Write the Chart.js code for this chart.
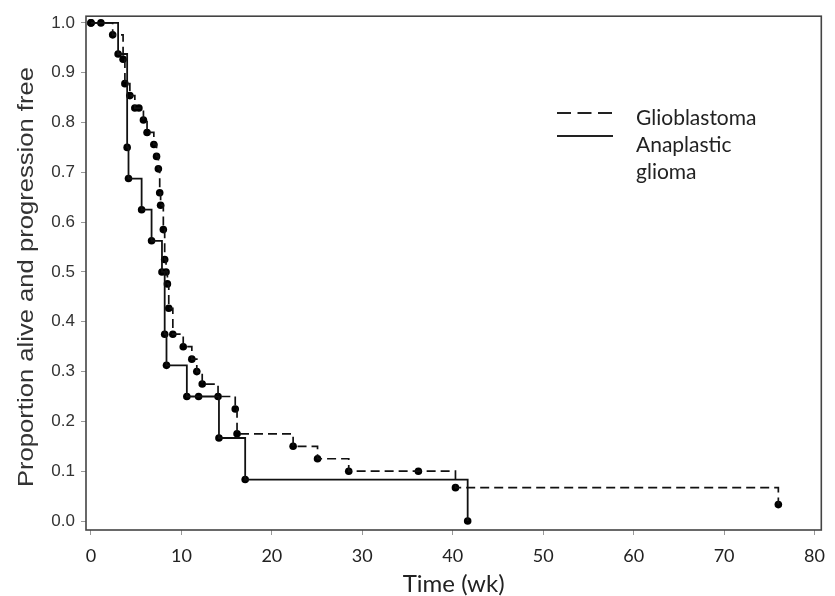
<!DOCTYPE html>
<html lang="en">
  <head>
    <meta charset="UTF-8" />
    <title>Proportion alive and progression free</title>
    <script src="https://cdn.jsdelivr.net/npm/chart.js"></script>
    <style>
      body { margin: 0; background: #fff; }
    </style>
  </head>
  <body>
    <canvas id="kmChart" width="835" height="596"></canvas>

    <script>
      // Glioblastoma (dashed) - step times and survival after each step
      const glioTimes = [0, 2.4, 3.55, 3.75, 4.3, 4.85, 5.8, 6.2, 6.95, 7.25, 7.45, 7.6, 7.7, 8.0, 8.15, 8.3, 8.45, 8.6, 9.05, 10.2, 11.15, 11.7, 12.3, 14.05, 15.95, 16.15, 22.35, 25.05, 28.5, 40.3, 76.0];
      const glioSurv = [1.0, 0.976, 0.927, 0.878, 0.854, 0.829, 0.805, 0.78, 0.756, 0.732, 0.707, 0.659, 0.634, 0.585, 0.525, 0.5, 0.476, 0.427, 0.375, 0.35, 0.325, 0.3, 0.275, 0.25, 0.225, 0.175, 0.15, 0.125, 0.1, 0.067, 0.033];
      const glioCensTimes = [5.3, 36.2];
      const glioCensSurv = [0.829, 0.1];

      // Anaplastic glioma (solid)
      const anaTimes = [0, 3.0, 4.0, 4.15, 5.6, 6.7, 7.85, 8.15, 8.35, 10.6, 14.15, 17.05, 41.65];
      const anaSurv = [1.0, 0.9375, 0.75, 0.6875, 0.625, 0.5625, 0.5, 0.375, 0.3125, 0.25, 0.1667, 0.0833, 0.0];
      const anaCensTimes = [1.1, 11.9];
      const anaCensSurv = [1.0, 0.25];

      const xTicks = [0, 10, 20, 30, 40, 50, 60, 70, 80];
      const yTicks = [0, 0.1, 0.2, 0.3, 0.4, 0.5, 0.6, 0.7, 0.8, 0.9, 1.0];

      const yTitle = "Proportion alive and progression free";
      const legendItems = [
        { text: ["Glioblastoma"], dash: [14, 6.5] },
        { text: ["Anaplastic", "glioma"], dash: [] },
      ];

      const toPoints = (xs, ys) => xs.map((x, i) => ({ x: x, y: ys[i] }));

      const glioLine = toPoints(glioTimes, glioSurv);
      const anaLine = toPoints(anaTimes, anaSurv);
      const glioDots = glioLine.concat(toPoints(glioCensTimes, glioCensSurv));
      const anaDots = anaLine.concat(toPoints(anaCensTimes, anaCensSurv));

      // box around the plot, the (wide) y title and the legend
      const framePlugin = {
        id: "frame",
        afterDraw(chart) {
          const ctx = chart.ctx;
          const a = chart.chartArea;
          ctx.save();
          ctx.strokeStyle = "#444";
          ctx.lineWidth = 1.6;
          ctx.strokeRect(a.left, a.top, a.right - a.left, a.bottom - a.top);

          // y title, stretched along its length like the original
          ctx.save();
          ctx.fillStyle = "#333";
          ctx.font = "22px 'Liberation Sans'";
          ctx.textAlign = "center";
          ctx.textBaseline = "middle";
          ctx.translate(27, 277);
          ctx.rotate(-Math.PI / 2);
          const w = ctx.measureText(yTitle).width;
          ctx.scale(420 / w, 1);
          ctx.fillText(yTitle, 0, 0);
          ctx.restore();

          ctx.strokeStyle = "#222";
          ctx.lineWidth = 2;
          ctx.fillStyle = "#222";
          ctx.font = "21px Lato";
          ctx.textBaseline = "middle";
          const lineY = [113, 136];
          const textY = [118, 145];
          legendItems.forEach((item, i) => {
            ctx.setLineDash(item.dash);
            ctx.beginPath();
            ctx.moveTo(557, lineY[i]);
            ctx.lineTo(613, lineY[i]);
            ctx.stroke();
            item.text.forEach((t, j) => {
              ctx.fillText(t, 636, textY[i] + j * 27);
            });
          });
          ctx.restore();
        },
      };

      new Chart(document.getElementById("kmChart"), {
        type: "scatter",
        data: {
          datasets: [
            {
              label: "Glioblastoma",
              data: glioLine,
              showLine: true,
              stepped: "before",
              borderColor: "#111",
              borderWidth: 1.7,
              borderDash: [9, 5],
              pointRadius: 0,
            },
            {
              label: "Anaplastic glioma",
              data: anaLine,
              showLine: true,
              stepped: "before",
              borderColor: "#111",
              borderWidth: 1.8,
              pointRadius: 0,
            },
            {
              label: "Glioblastoma points",
              data: glioDots,
              pointRadius: 3.8,
              pointBackgroundColor: "#000",
              pointBorderWidth: 0,
            },
            {
              label: "Anaplastic points",
              data: anaDots,
              pointRadius: 3.8,
              pointBackgroundColor: "#000",
              pointBorderWidth: 0,
            },
          ],
        },
        options: {
          responsive: false,
          animation: false,
          layout: { padding: { top: 14, right: 3, left: 0, bottom: 0 } },
          plugins: {
            legend: { display: false },
            tooltip: { enabled: false },
          },
          scales: {
            x: {
              type: "linear",
              min: -0.55,
              max: 80.75,
              afterBuildTicks: (scale) => {
                scale.ticks = xTicks.map((v) => ({ value: v }));
              },
              afterFit: (scale) => {
                scale.height = 66;
              },
              ticks: {
                font: { family: "Lato", size: 18 },
                color: "#222",
                padding: 10,
                maxRotation: 0,
              },
              grid: { drawOnChartArea: false, tickLength: 5, color: "#999" },
              border: { display: false },
              title: {
                display: true,
                text: "Time (wk)",
                font: { family: "Lato", size: 24, lineHeight: 1 },
                color: "#222",
                padding: { top: 0, bottom: 0 },
              },
            },
            y: {
              type: "linear",
              min: -0.018,
              max: 1.0134,
              afterBuildTicks: (scale) => {
                scale.ticks = yTicks.map((v) => ({ value: v }));
              },
              afterFit: (scale) => {
                scale.width = 86;
              },
              ticks: {
                font: { family: "Liberation Sans", size: 17 },
                color: "#333",
                padding: 6,
                callback: (v) => v.toFixed(1),
              },
              grid: { drawOnChartArea: false, tickLength: 5, color: "#999" },
              border: { display: false },
            },
          },
        },
        plugins: [framePlugin],
      });
    </script>
  </body>
</html>
